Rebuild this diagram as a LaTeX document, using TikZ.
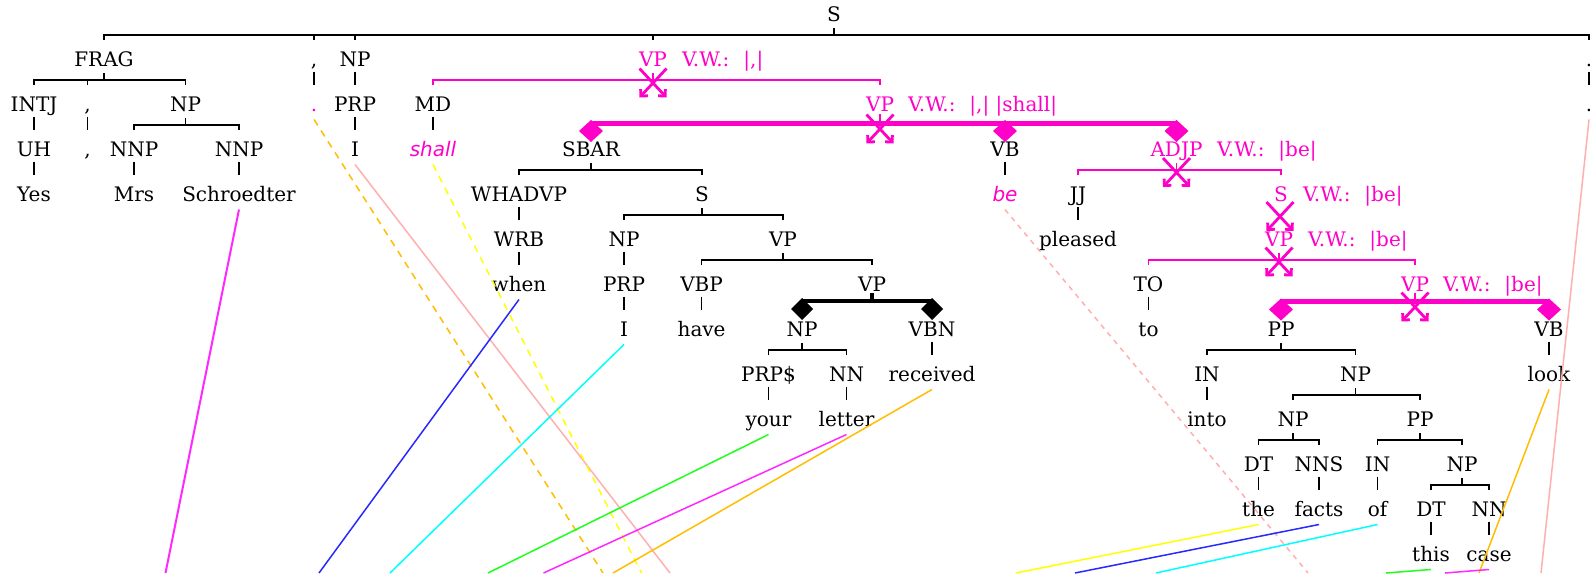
\documentclass[tikz,border=0pt]{standalone}
\usepackage{fontspec}
\setmainfont{DejaVu Serif}
\newfontfamily\wsans{DejaVu Sans}
\usetikzlibrary{calc,arrows.meta}
\definecolor{mag}{RGB}{255,0,200}
\definecolor{lmag}{RGB}{255,40,255}
\definecolor{lpink}{RGB}{255,175,175}
\definecolor{lorange}{RGB}{255,190,0}
\definecolor{lyellow}{RGB}{255,255,0}
\definecolor{lblue}{RGB}{40,40,255}
\definecolor{lcyan}{RGB}{0,255,255}
\definecolor{lgreen}{RGB}{30,255,30}
\tikzset{
  lab/.style={inner sep=0pt, outer sep=0pt, text height=7.5pt, text depth=0pt, font=\fontsize{10}{12}\selectfont},
  plab/.style={lab, text=mag},
  pw/.style={lab, text=mag, font=\wsans\itshape\fontsize{10}{12}\selectfont},
  vw/.style={lab, anchor=west, text=mag},
  tl/.style={line width=0.8pt, black},
  ptl/.style={line width=0.8pt, mag},
  thk/.style={line width=2.5pt, mag},
  xm/.style={mag, line width=1.4pt, -{Straight Barb[angle=90:3.5pt]}},
  al/.style={line width=0.75pt},
}
\newcommand{\tbr}[4][tl]{%
  \path (#2.south) ++(0,13.5) coordinate (#2b);
  \draw[#1] ([yshift=-3.25pt]#2.south) -- (#2b);
  \draw[#1] ([yshift=5.75pt]#3.north) |- (#2b) -| ([yshift=5.75pt]#4.north);}
\newcommand{\tmid}[3][tl]{\draw[#1] (#2b -| #3.north) -- ([yshift=5.75pt]#3.north);}
\newcommand{\tstem}[2]{\draw[tl] ([yshift=-2.5pt]#1.south) -- ([yshift=6pt]#2.north);}
\newcommand{\xmk}[1]{\draw[xm] (#1) ++(-13.5,-14.5) -- ++(27,29); \draw[xm] (#1) ++(13.5,-14.5) -- ++(-27,29);}
\newcommand{\dmd}[3]{\fill[#1] (#2) ++(-#3,8) -- ++(#3,-11) -- ++(#3,11) -- ++(-#3,11) -- cycle;}
\begin{document}
\begin{tikzpicture}[x=0.5pt,y=-0.5pt]
\fill[white] (0,0) rectangle (1590,573);
\useasboundingbox (0,0) rectangle (1590,573);
% row 0
\node[lab] (s0) at (834,14) {S};
% row 1
\node[lab] (frag) at (104,59) {FRAG};
\node[lab] (cma) at (314,59) {,};
\node[lab] (npa) at (355,59) {NP};
\node[plab] (vpa) at (653,59) {VP};
\node[vw] (vwa) at (682,59) {V.W.:\hspace{0.7em}|,|};
\node[lab] (dota) at (1589,59) {.};
% row 2
\node[lab] (intj) at (34,104) {INTJ};
\node[lab] (cmb) at (87.5,104) {,};
\node[lab] (npb) at (185.5,104) {NP};
\node[lab,text=mag] (cmw) at (314,104) {.};
\node[lab] (prpa) at (355,104) {PRP};
\node[lab] (md) at (433,104) {MD};
\node[plab] (vpb) at (880,104) {VP};
\node[vw] (vwb) at (908,104) {V.W.:\hspace{0.7em}|,| |shall|};
\node[lab] (dotb) at (1589,104) {.};
% row 3
\node[lab] (uh) at (34,149) {UH};
\node[lab] (cmc) at (87.5,149) {,};
\node[lab] (nnpa) at (134,149) {NNP};
\node[lab] (nnpb) at (239,149) {NNP};
\node[lab] (iwa) at (355,149) {I};
\node[pw] (shall) at (433,149) {shall};
\node[lab] (sbar) at (591,149) {SBAR};
\node[lab] (vba) at (1005,149) {VB};
\node[plab] (adjp) at (1176.5,149) {ADJP};
\node[vw] (vwc) at (1217,149) {V.W.:\hspace{0.7em}|be|};
% row 4
\node[lab] (yes) at (34,194) {Yes};
\node[lab] (mrs) at (134,194) {Mrs};
\node[lab] (schr) at (239,194) {Schroedter};
\node[lab] (whadvp) at (519,194) {WHADVP};
\node[lab] (sb) at (702,194) {S};
\node[pw] (be) at (1005,194) {be};
\node[lab] (jj) at (1078,194) {JJ};
\node[plab] (sc) at (1281,194) {S};
\node[vw] (vwd) at (1303,194) {V.W.:\hspace{0.7em}|be|};
% row 5
\node[lab] (wrb) at (519,239) {WRB};
\node[lab] (npc) at (624,239) {NP};
\node[lab] (vpc) at (783,239) {VP};
\node[lab] (pleased) at (1078,239) {pleased};
\node[plab] (vpd) at (1279,239) {VP};
\node[vw] (vwe) at (1308,239) {V.W.:\hspace{0.7em}|be|};
% row 6
\node[lab] (when) at (519,284) {when};
\node[lab] (prpb) at (624,284) {PRP};
\node[lab] (vbp) at (701.6,284) {VBP};
\node[lab] (vpe) at (872,284) {VP};
\node[lab] (toa) at (1148.5,284) {TO};
\node[plab] (vpf) at (1415,284) {VP};
\node[vw] (vwf) at (1443,284) {V.W.:\hspace{0.7em}|be|};
% row 7
\node[lab] (iwb) at (624,329) {I};
\node[lab] (have) at (701.6,329) {have};
\node[lab] (npd) at (802,329) {NP};
\node[lab] (vbn) at (932,329) {VBN};
\node[lab] (tob) at (1148.5,329) {to};
\node[lab] (ppa) at (1281,329) {PP};
\node[lab] (vbb) at (1549,329) {VB};
% row 8
\node[lab] (prps) at (768.5,374) {PRP\$};
\node[lab] (nna) at (846.5,374) {NN};
\node[lab] (received) at (932,374) {received};
\node[lab] (ina) at (1207,374) {IN};
\node[lab] (npe) at (1355.6,374) {NP};
\node[lab] (look) at (1549,374) {look};
% row 9
\node[lab] (your) at (768.5,419) {your};
\node[lab] (letter) at (846.5,419) {letter};
\node[lab] (into) at (1207,419) {into};
\node[lab] (npf) at (1293,419) {NP};
\node[lab] (ppb) at (1420,419) {PP};
% row 10
\node[lab] (dta) at (1258.6,464) {DT};
\node[lab] (nns) at (1319,464) {NNS};
\node[lab] (inb) at (1377.6,464) {IN};
\node[lab] (npg) at (1462,464) {NP};
% row 11
\node[lab] (the) at (1258.6,509) {the};
\node[lab] (facts) at (1319,509) {facts};
\node[lab] (of) at (1377.6,509) {of};
\node[lab] (dtb) at (1431,509) {DT};
\node[lab] (nnb) at (1489,509) {NN};
% row 12
\node[lab] (this) at (1431,554) {this};
\node[lab] (case) at (1489,554) {case};

% black brackets
\tbr{s0}{frag}{dota} \tmid{s0}{cma} \tmid{s0}{npa} \tmid{s0}{vpa}
\tbr{frag}{intj}{npb} \tmid{frag}{cmb}
\tbr{npb}{nnpa}{nnpb}
\tbr{sbar}{whadvp}{sb}
\tbr{sb}{npc}{vpc}
\tbr{vpc}{vbp}{vpe}
\tbr{npd}{prps}{nna}
\tbr{ppa}{ina}{npe}
\tbr{npe}{npf}{ppb}
\tbr{npf}{dta}{nns}
\tbr{ppb}{inb}{npg}
\tbr{npg}{dtb}{nnb}
% stems
\tstem{npa}{prpa} \tstem{prpa}{iwa} \tstem{cma}{cmw} \tstem{dota}{dotb}
\tstem{intj}{uh} \tstem{uh}{yes} \tstem{cmb}{cmc}
\tstem{nnpa}{mrs} \tstem{nnpb}{schr} \tstem{md}{shall}
\tstem{whadvp}{wrb} \tstem{wrb}{when} \tstem{npc}{prpb} \tstem{prpb}{iwb}
\tstem{vbp}{have} \tstem{vbn}{received} \tstem{prps}{your} \tstem{nna}{letter}
\tstem{vba}{be} \tstem{jj}{pleased} \tstem{toa}{tob} \tstem{vbb}{look}
\tstem{ina}{into} \tstem{dta}{the} \tstem{nns}{facts} \tstem{inb}{of}
\tstem{dtb}{this} \tstem{nnb}{case}

% black thick bar
\path (vpe.south) ++(0,9.5) coordinate (vpet);
\draw[line width=2pt] (vpet -| npd) -- (vpet -| vbn);
\draw[line width=2pt] ([yshift=-0.75pt]vpe.south) -- (vpet);
\path (vpet -| npd) coordinate (dka); \dmd{black}{dka}{11}
\path (vpet -| vbn) coordinate (dkb); \dmd{black}{dkb}{11}

% magenta thin brackets
\tbr[ptl]{vpa}{md}{vpb}
\tbr[ptl]{adjp}{jj}{sc}
\tbr[ptl]{vpd}{toa}{vpf}

% magenta thick bars
\path (vpb.south) ++(0,11.5) coordinate (vpbt);
\draw[thk] (vpbt -| sbar) -- (vpbt -| adjp);
\draw[mag,line width=1.2pt] ([yshift=-1.25pt]vpb.south) -- (vpbt);
\path (vpbt -| sbar) coordinate (dma); \dmd{mag}{dma}{12}
\path (vpbt -| vba) coordinate (dmb); \dmd{mag}{dmb}{12}
\path (vpbt -| adjp) coordinate (dmc); \dmd{mag}{dmc}{12}

\path (vpf.south) ++(0,10) coordinate (vpft);
\draw[thk] (vpft -| ppa) -- (vpft -| vbb);
\draw[mag,line width=1.2pt] ([yshift=-0.5pt]vpf.south) -- (vpft);
\path (vpft -| ppa) coordinate (dmd); \dmd{mag}{dmd}{12}
\path (vpft -| vbb) coordinate (dme); \dmd{mag}{dme}{12}

% X markers
\path (vpab) ++(0,3) coordinate (xa); \xmk{xa}
\path (vpbt) ++(0,6) coordinate (xb); \xmk{xb}
\path (adjpb) ++(0,2.5) coordinate (xc); \xmk{xc}
\path ($(sc.south)!0.5!(vpd.north)$) coordinate (xd); \xmk{xd}
\path (vpdb) ++(0,2) coordinate (xe); \xmk{xe}
\path (vpft) ++(0,5.5) coordinate (xf); \xmk{xf}

% alignment lines
\coordinate (e1) at (165.5,573);
\coordinate (e2) at (603,573);
\coordinate (e3) at (670,573);
\coordinate (e4) at (641.5,573);
\coordinate (e5) at (319,573);
\coordinate (e6) at (390,573);
\coordinate (e7) at (488,573);
\coordinate (e8) at (543.5,573);
\coordinate (e9) at (613,573);
\coordinate (e10) at (1308,573);
\coordinate (e11) at (1541,573);
\coordinate (e12) at (1479,573);
\coordinate (e13) at (1016,573);
\coordinate (e14) at (1075,573);
\coordinate (e15) at (1156,573);
\coordinate (e16) at (1386,573);
\coordinate (e17) at (1445,573);
\draw[al,lmag,line width=1pt] ([yshift=-4pt]schr.south) -- (e1);
\draw[al,lorange,dash pattern=on 3.5pt off 3pt] ([yshift=-4pt]cmw.south) -- (e2);
\draw[al,lpink] ([yshift=-4pt]iwa.south) -- (e3);
\draw[al,lyellow,dash pattern=on 3.5pt off 3pt] ([yshift=-4pt]shall.south) -- (e4);
\draw[al,lblue] ([yshift=-4pt]when.south) -- (e5);
\draw[al,lcyan] ([yshift=-4pt]iwb.south) -- (e6);
\draw[al,lgreen] ([yshift=-4pt]your.south) -- (e7);
\draw[al,lmag] ([yshift=-4pt]letter.south) -- (e8);
\draw[al,lorange] ([yshift=-4pt]received.south) -- (e9);
\draw[al,lpink,dash pattern=on 2.5pt off 2.5pt] ([yshift=-4pt]be.south) -- (e10);
\draw[al,lpink] ([yshift=-4pt]dotb.south) -- (e11);
\draw[al,lorange] ([yshift=-4pt]look.south) -- (e12);
\draw[al,lyellow] ([yshift=-4pt]the.south) -- (e13);
\draw[al,lblue] ([yshift=-4pt]facts.south) -- (e14);
\draw[al,lcyan] ([yshift=-4pt]of.south) -- (e15);
\draw[al,lgreen] ([yshift=-4pt]this.south) -- (e16);
\draw[al,lmag] ([yshift=-4pt]case.south) -- (e17);
\end{tikzpicture}
\end{document}
